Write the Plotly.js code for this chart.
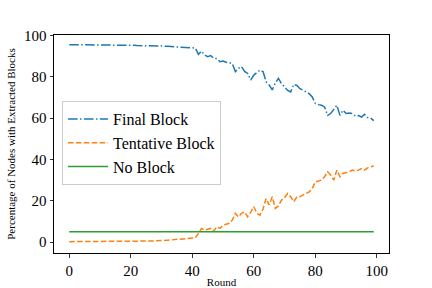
<!DOCTYPE html>
<html>
<head>
<meta charset="utf-8">
<script src="https://cdn.plot.ly/plotly-3.0.1.min.js"></script>
<style>html,body{margin:0;padding:0;background:#fff;}#chart{width:432px;height:288px;}</style>
</head>
<body>
<div id="chart"></div>
<script>
const rounds = Array.from({length: 100}, (_, i) => i);

const finalBlock = [
  95.5,95.5,95.5,95.5,95.5,95.4,95.4,95.4,95.4,95.4,
  95.4,95.4,95.3,95.3,95.3,95.3,95.3,95.3,95.2,95.2,
  95.2,95.2,95.1,95.1,95.1,95.0,95.0,95.0,94.9,94.9,
  94.8,94.8,94.7,94.6,94.5,94.4,94.3,94.1,94.0,93.8,
  93.7,93.9,90.8,92.4,90.5,89.7,90.2,88.9,88.8,87.3,
  87.6,87.0,86.8,86.4,82.5,84.0,84.9,82.6,81.6,78.4,
  80.8,82.0,83.2,82.5,77.6,76.0,73.6,77.0,79.2,76.7,
  75.0,73.4,72.6,76.3,75.8,74.2,73.5,72.6,71.8,70.2,
  67.0,66.5,66.2,65.4,61.3,62.2,64.0,66.2,61.3,63.8,
  62.2,62.4,62.2,61.0,61.2,60.5,61.8,60.2,60.0,58.8
];

const tentativeBlock = [
  0.2,0.2,0.2,0.2,0.2,0.2,0.2,0.2,0.2,0.2,
  0.2,0.2,0.2,0.2,0.2,0.2,0.2,0.3,0.3,0.3,
  0.3,0.3,0.4,0.4,0.4,0.5,0.5,0.5,0.6,0.6,
  0.7,0.8,0.9,1.0,1.1,1.2,1.4,1.5,1.7,1.9,
  2.0,2.1,4.2,6.6,5.8,6.2,6.6,5.3,7.4,6.6,
  8.2,8.6,9.0,10.6,13.9,12.2,13.9,14.6,12.2,14.5,
  17.1,13.9,13.0,16.0,21.1,18.0,21.9,16.3,17.5,20.3,
  21.5,23.5,21.9,19.5,21.9,22.0,22.7,23.5,24.3,25.9,
  29.1,29.5,30.0,31.6,34.0,32.4,30.0,34.8,31.6,33.2,
  33.6,34.0,34.8,34.4,34.8,35.6,34.8,35.9,36.4,36.8
];

const noBlock = rounds.map(() => 5);

const seriesNames = ["Final Block", "Tentative Block", "No Block"];
const xTicks = [0, 20, 40, 60, 80, 100];
const yTicks = [0, 20, 40, 60, 80, 100];

const serif = "'Liberation Serif', 'Times New Roman', serif";

const traces = [
  {x: rounds, y: finalBlock, name: seriesNames[0], mode: "lines",
   line: {color: "#1f77b4", width: 1.5, dash: "9.6px,2.4px,1.5px,2.4px"}},
  {x: rounds, y: tentativeBlock, name: seriesNames[1], mode: "lines",
   line: {color: "#ff7f0e", width: 1.5, dash: "5.5px,2.4px"}},
  {x: rounds, y: noBlock, name: seriesNames[2], mode: "lines",
   line: {color: "#2ca02c", width: 1.5}}
];

const axisCommon = {
  showline: true, mirror: true, linecolor: "#000", linewidth: 1,
  ticks: "outside", ticklen: 3.5, tickwidth: 0.8, tickcolor: "#000",
  showgrid: false, zeroline: false, automargin: false,
  tickfont: {family: serif, size: 15, color: "#000"}
};

const layout = {
  width: 432, height: 288,
  margin: {l: 54, r: 43, t: 35, b: 35},
  paper_bgcolor: "#fff", plot_bgcolor: "#fff",
  showlegend: true,
  font: {family: serif, color: "#000"},
  xaxis: Object.assign({}, axisCommon, {
    range: [-4.95, 103.95], tickvals: xTicks,
    title: {text: "Round", font: {family: serif, size: 11, color: "#000"}, standoff: 3}
  }),
  yaxis: Object.assign({}, axisCommon, {
    range: [-5.3, 100.2], tickvals: yTicks,
    title: {text: "Percentage of Nodes with Extracted Blocks", font: {family: serif, size: 11, color: "#000"}, standoff: 6}
  }),
  legend: {
    x: 0.024, y: 0.697, xanchor: "left", yanchor: "top",
    bgcolor: "rgba(255,255,255,0.8)", bordercolor: "#cccccc", borderwidth: 1,
    font: {family: serif, size: 16, color: "#000"},
    itemwidth: 40,
    tracegroupgap: 0
  }
};

Plotly.newPlot("chart", traces, layout, {displayModeBar: false, staticPlot: true});
</script>
</body>
</html>
